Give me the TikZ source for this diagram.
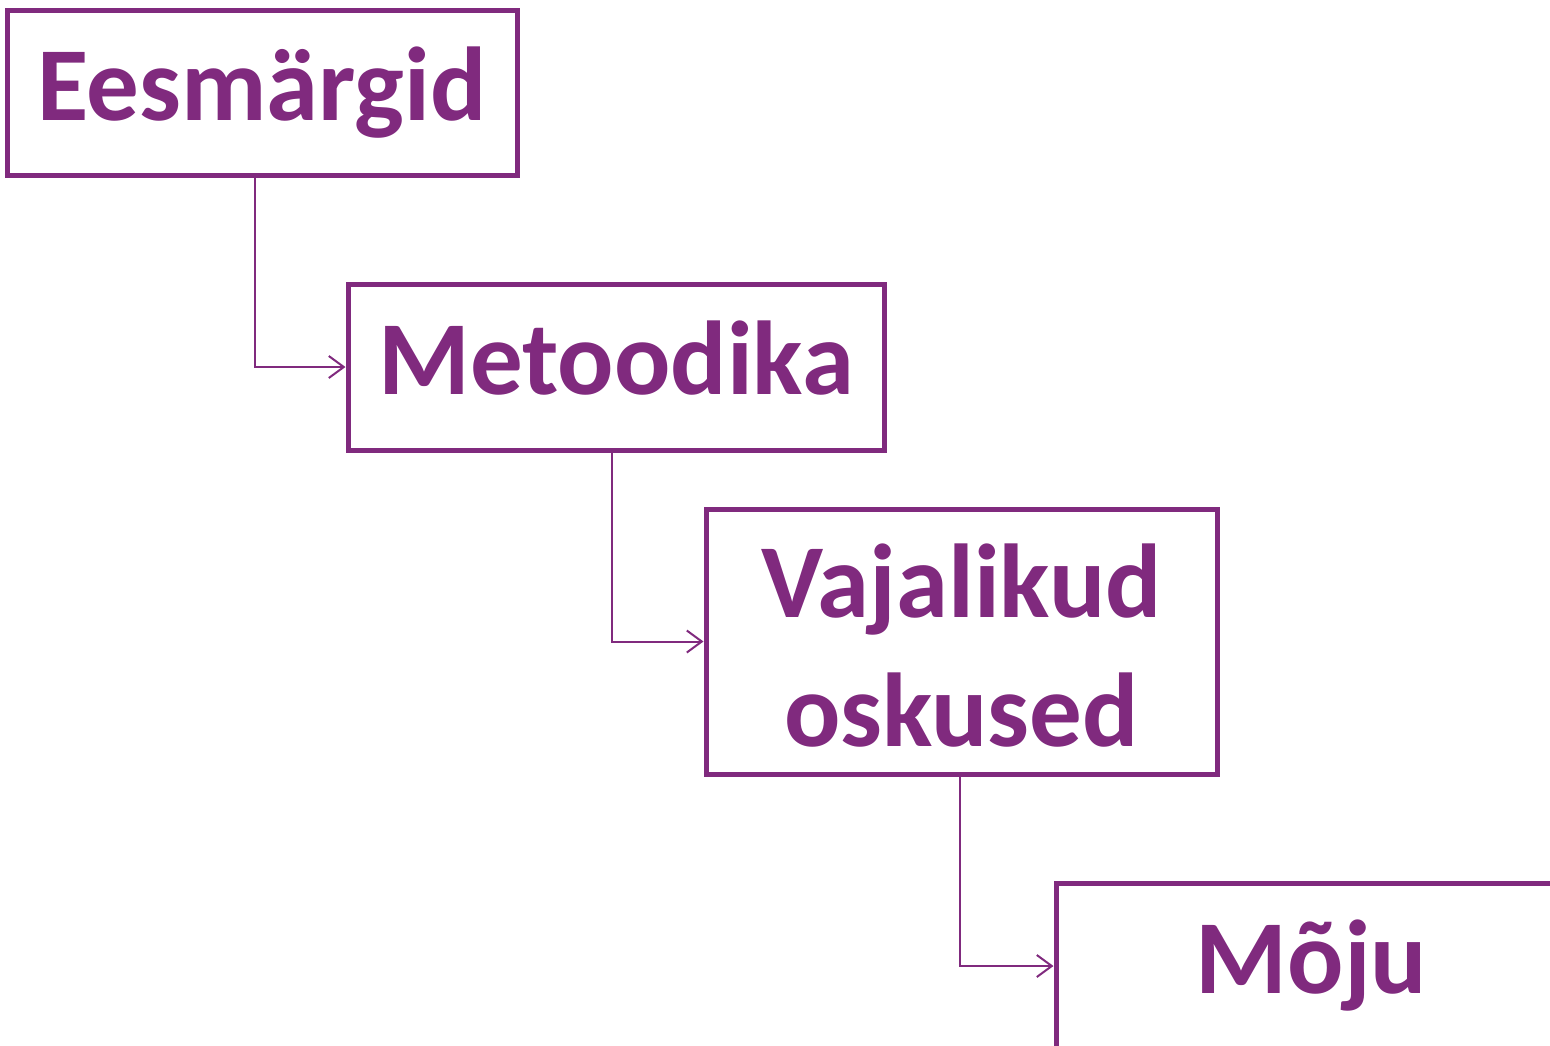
\documentclass[tikz,border=0pt]{standalone}
\usepackage{fontspec}
\setmainfont{Carlito}
\usetikzlibrary{arrows.meta,calc}
\definecolor{pur}{RGB}{128,42,126}
\begin{document}
\begin{tikzpicture}[x=1pt,y=-1pt,
  box/.style={draw=pur,line width=5pt,rectangle,inner sep=0pt,text=pur,
    font=\fontsize{105}{129}\selectfont\bfseries,align=center,
    text height=80pt,text depth=26pt},
  conn/.style={draw=pur,line width=2pt,-{Straight Barb[length=15pt,width=22pt,line width=2pt]}}]
\useasboundingbox (0,0) rectangle (1550,1045);
\clip (0,0) rectangle (1550,1045);
\node[box,minimum width=510pt,minimum height=165pt] (b1) at (262,93) {Eesmärgid};
\node[box,minimum width=536pt,minimum height=166pt] (b2) at (616,367) {Metoodika};
\node[box,minimum width=511pt,minimum height=265pt,text height=235pt] (b3) at (961.5,641.5) {Vajalikud\\oskused};
\node[box,minimum width=511pt,minimum height=166pt] (b4) at (1311.5,966) {Mõju};
\draw[conn] ([xshift=-7pt]b1.south) |- (b2.west);
\draw[conn] ([xshift=-4pt]b2.south) |- (b3.west);
\draw[conn] ([xshift=-1.5pt]b3.south) |- (b4.west);
\end{tikzpicture}
\end{document}
